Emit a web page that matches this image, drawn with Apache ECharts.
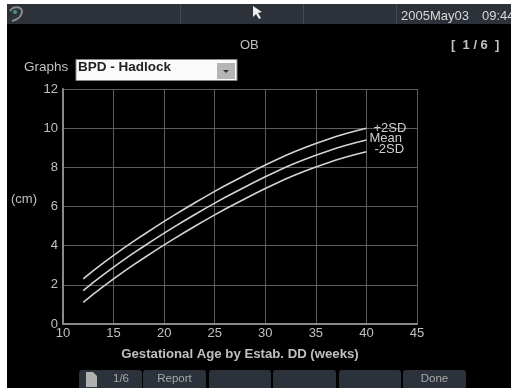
<!DOCTYPE html>
<html><head><meta charset="utf-8">
<style>html,body{margin:0;padding:0;background:#fff}#c{width:511px;height:388px;filter:blur(0.6px)}</style>
<script src="https://cdn.jsdelivr.net/npm/echarts@6/dist/echarts.min.js"></script>
</head><body><div id="c"></div>
<script>
const weeks=[12,13,14,15,16,17,18,19,20,21,22,23,24,25,26,27,28,29,30,31,32,33,34,35,36,37,38,39,40];
const plus2SD=[2.30,2.72,3.12,3.50,3.87,4.23,4.57,4.91,5.24,5.56,5.87,6.18,6.48,6.77,7.06,7.33,7.60,7.86,8.12,8.36,8.60,8.82,9.03,9.22,9.40,9.57,9.73,9.87,10.00];
const mean=[1.70,2.12,2.52,2.90,3.27,3.63,3.97,4.31,4.64,4.96,5.27,5.58,5.88,6.17,6.46,6.73,7.00,7.26,7.52,7.76,8.00,8.22,8.43,8.62,8.80,8.97,9.13,9.27,9.40];
const minus2SD=[1.10,1.52,1.92,2.30,2.67,3.03,3.37,3.71,4.04,4.36,4.67,4.98,5.28,5.57,5.86,6.13,6.40,6.66,6.92,7.16,7.40,7.62,7.83,8.02,8.20,8.37,8.53,8.67,8.80];
const seriesNames=['+2SD','Mean','-2SD'];
const seriesValues=[plus2SD,mean,minus2SD];
const labelOffsets=[[7,0],[3,-1],[8,-2]];
const xTitle='Gestational Age by Estab. DD (weeks)';
const yTitle='(cm)';
const buttonLabels=['1/6','Report','','','','Done'];
const FONT='"Liberation Sans",Arial,sans-serif';
const TXT='#c0c0c0', BAR='#2c313a';

const chart=echarts.init(document.getElementById('c'),null,{renderer:'canvas'});
const btnX=[79,143,209,273,339,403], btnW=[63,63,62,63,62,63];
const graphic=[
 {type:'rect',z:-10,shape:{x:7,y:4,width:504,height:384},style:{fill:'#000'}},
 {type:'rect',z:-9,shape:{x:7,y:4,width:504,height:20},style:{fill:BAR}},
 ...[180,303,396].map(x=>({type:'rect',z:-8,shape:{x:x,y:4,width:1,height:20},style:{fill:'#444a54'}})),
 {type:'bezierCurve',shape:{x1:10,y1:11,cpx1:13,cpy1:6,cpx2:21,cpy2:6,x2:22,y2:11},style:{fill:'none',stroke:'#8a8a8a',lineWidth:2}},
 {type:'bezierCurve',shape:{x1:22,y1:11,cpx1:22,cpy1:17,cpx2:16,cpy2:20,x2:12,y2:21},style:{fill:'none',stroke:'#8a8a8a',lineWidth:2}},
 {type:'circle',shape:{cx:15,cy:12,r:2},style:{fill:'#4f8f86'}},
 {type:'polygon',shape:{points:[[253,6],[253,17],[256,14],[259,19],[261,18],[258,13],[262,12]]},style:{fill:'#eee'}},
 {type:'text',style:{x:401,y:10,text:'2005May03',fill:'#d8d8d8',font:'13px '+FONT}},
 {type:'text',style:{x:482,y:10,text:'09:44',fill:'#d8d8d8',font:'13px '+FONT}},
 {type:'text',style:{x:240,y:39,text:'OB',fill:TXT,font:'13px '+FONT}},
 {type:'text',style:{x:451,y:39,text:'[  1 / 6  ]',fill:TXT,font:'bold 13px '+FONT}},
 {type:'text',style:{x:24,y:60,text:'Graphs',fill:TXT,font:'13.5px '+FONT}},
 {type:'rect',shape:{x:76,y:59.5,width:161,height:21},style:{fill:'#fafafa',stroke:'#888',lineWidth:1}},
 {type:'text',style:{x:78,y:60,text:'BPD - Hadlock',fill:'#222',font:'bold 13.5px '+FONT}},
 {type:'rect',shape:{x:217,y:63,width:18,height:16},style:{fill:'#b5b5b5'}},
 {type:'polygon',shape:{points:[[223,70],[229,70],[226,73]]},style:{fill:'#333'}},
 {type:'text',style:{x:11,y:193,text:yTitle,fill:TXT,font:'13px '+FONT}},
 ...btnX.map((x,i)=>({type:'rect',shape:{x:x,y:370,width:btnW[i],height:24,r:3},style:{fill:'#2c323c'}})),
 ...btnX.map((x,i)=>({type:'text',style:{x:i===0?x+42:x+btnW[i]/2,y:373,text:buttonLabels[i],align:'center',fill:'#a8a8a8',font:'11.5px '+FONT}})),
 {type:'polygon',shape:{points:[[86,372],[93,372],[97,376],[97,387],[86,387]]},style:{fill:'#b0b0b0'}}
];
chart.setOption({
 animation:false,backgroundColor:'transparent',
 grid:{left:63,right:94,top:89,bottom:64},
 xAxis:{type:'value',min:10,max:45,interval:5,
  name:xTitle,nameLocation:'middle',nameGap:24,
  nameTextStyle:{color:TXT,fontSize:13.2,fontWeight:'bold',fontFamily:FONT},
  axisLine:{onZero:false,lineStyle:{color:'#8a8a8a',width:2}},axisTick:{show:false},
  axisLabel:{color:TXT,fontSize:13,margin:3,fontFamily:FONT},
  splitLine:{show:true,lineStyle:{color:'#5e5e5e',width:1}}},
 yAxis:{type:'value',min:0,max:12,interval:2,
  axisLine:{show:true,lineStyle:{color:'#8a8a8a',width:2}},axisTick:{show:false},
  axisLabel:{color:TXT,fontSize:13,margin:5,fontFamily:FONT},
  splitLine:{show:true,lineStyle:{color:'#5e5e5e',width:1}}},
 series:seriesNames.map((n,i)=>({
  name:n,type:'line',showSymbol:false,
  data:weeks.map((w,j)=>[w,seriesValues[i][j]]),
  lineStyle:{color:'#d4d4d4',width:1.6},
  endLabel:{show:true,formatter:n,color:'#cfcfcf',fontSize:13,fontFamily:FONT,distance:0,offset:labelOffsets[i]}
 })),
 graphic:graphic
});
</script></body></html>
